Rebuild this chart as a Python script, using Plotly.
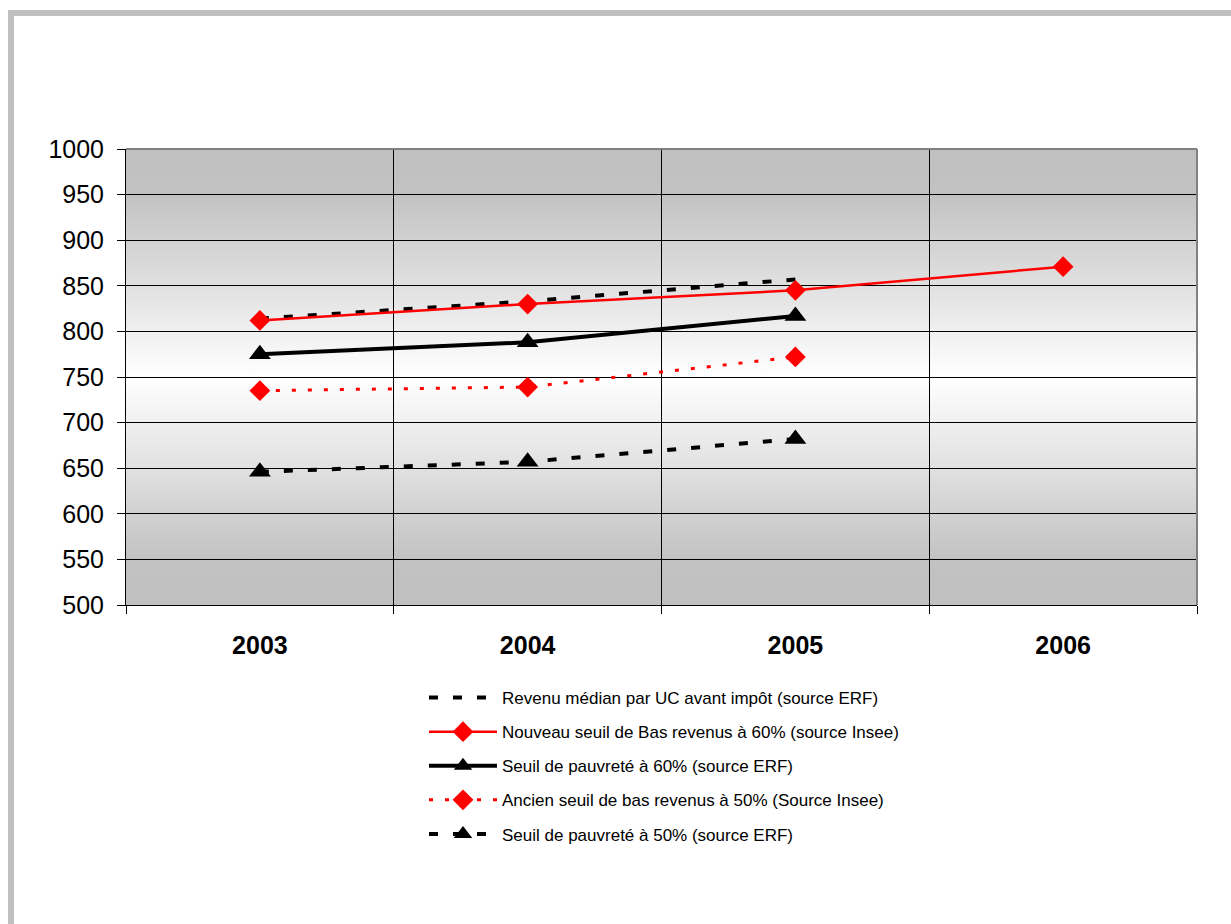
import base64
import plotly.graph_objects as go

# ---- data ----
years = ["2003", "2004", "2005", "2006"]
revenu_median = [814, 833, 857, None]
nouveau_seuil_60 = [812, 830, 845, 871]
seuil_pauvrete_60 = [775, 788, 817, None]
ancien_seuil_50 = [735, 739, 772, None]
seuil_pauvrete_50 = [646, 657, 682, None]

names = [
    "Revenu médian par UC avant impôt (source ERF)",
    "Nouveau seuil de Bas revenus à 60% (source Insee)",
    "Seuil de pauvreté à 60% (source ERF)",
    "Ancien seuil de bas revenus à 50% (Source Insee)",
    "Seuil de pauvreté à 50% (source ERF)",
]
y_ticks = list(range(500, 1001, 50))

# ---- layout geometry ----
W, H = 1231, 924
L, R, T, B = 126, 34, 149, 319
PW, PH = W - L - R, H - T - B


def px(x):
    return (x - L) / PW


def py(y):
    return (H - B - y) / PH


FONT = "Liberation Sans, Arial, sans-serif"

fig = go.Figure()

fig.add_trace(go.Scatter(
    x=years, y=revenu_median, name=names[0], mode="lines",
    line=dict(color="black", width=4, dash="9px,15px"),
    legendgroup="a"))
fig.add_trace(go.Scatter(
    x=years, y=nouveau_seuil_60, name=names[1], mode="lines+markers",
    line=dict(color="#ff0000", width=2.5),
    marker=dict(symbol="diamond", size=16, color="#ff0000"),
    legendgroup="b"))
fig.add_trace(go.Scatter(
    x=years, y=seuil_pauvrete_60, name=names[2], mode="lines+markers",
    line=dict(color="black", width=4),
    marker=dict(symbol="triangle-up", size=19, color="black"),
    legendgroup="c"))
fig.add_trace(go.Scatter(
    x=years, y=ancien_seuil_50, name=names[3], mode="lines+markers",
    line=dict(color="#ff0000", width=3, dash="4px,12px"),
    marker=dict(symbol="diamond", size=16, color="#ff0000"),
    legendgroup="d"))
fig.add_trace(go.Scatter(
    x=years, y=seuil_pauvrete_50, name=names[4], mode="lines+markers",
    line=dict(color="black", width=4, dash="9px,15px"),
    marker=dict(symbol="triangle-up", size=19, color="black"),
    legendgroup="e"))

# gradient background for plot area
svg = (
    '<svg xmlns="http://www.w3.org/2000/svg" width="100" height="100" preserveAspectRatio="none">'
    '<defs><linearGradient id="g" x1="0" y1="0" x2="0" y2="1">'
    '<stop offset="0" stop-color="#c0c0c0"/>'
    '<stop offset="0.1" stop-color="#c2c2c2"/>'
    '<stop offset="0.5" stop-color="#ffffff"/>'
    '<stop offset="0.9" stop-color="#c2c2c2"/>'
    '<stop offset="1" stop-color="#c0c0c0"/>'
    '</linearGradient></defs>'
    '<rect width="100" height="100" fill="url(#g)"/></svg>'
)
src = "data:image/svg+xml;base64," + base64.b64encode(svg.encode()).decode()

shapes = [
    # outer frame (left and top)
    dict(type="line", xref="paper", yref="paper", x0=px(11), x1=px(11), y0=py(10), y1=py(H + 5),
         line=dict(color="#c0c0c0", width=6)),
    dict(type="line", xref="paper", yref="paper", x0=px(8), x1=px(W + 5), y0=py(13), y1=py(13),
         line=dict(color="#c0c0c0", width=6)),
    # plot area top & right border
    dict(type="line", xref="paper", yref="paper", x0=0, x1=1, y0=1, y1=1,
         line=dict(color="#808080", width=2)),
    dict(type="line", xref="paper", yref="paper", x0=1, x1=1, y0=0, y1=1,
         line=dict(color="#808080", width=2)),
]

fig.update_layout(
    width=W, height=H,
    margin=dict(l=L, r=R, t=T, b=B, pad=0),
    paper_bgcolor="white",
    plot_bgcolor="white",
    font=dict(family=FONT, color="black"),
    images=[dict(source=src, xref="paper", yref="paper", x=0, y=1, sizex=1, sizey=1,
                 sizing="stretch", layer="below", xanchor="left", yanchor="top")],
    shapes=shapes,
    showlegend=True,
    legend=dict(
        x=px(424), y=py(680), xanchor="left", yanchor="top",
        font=dict(family=FONT, size=17, color="black"),
        bgcolor="rgba(0,0,0,0)",
        traceorder="grouped", tracegroupgap=9,
        itemwidth=68,
    ),
    xaxis=dict(
        type="category", range=[-0.5, 3.5],
        tickson="boundaries", ticks="outside", ticklen=8, tickcolor="black",
        showgrid=True, gridcolor="black", gridwidth=1,
        showline=True, linecolor="black", linewidth=1,
        tickfont=dict(family=FONT, size=25, color="black", weight="bold"),
        ticklabelstandoff=18,
        zeroline=False,
    ),
    yaxis=dict(
        range=[500, 1000], tickvals=y_ticks,
        ticks="outside", ticklen=8, tickcolor="black",
        showgrid=True, gridcolor="black", gridwidth=1,
        showline=True, linecolor="black", linewidth=1,
        tickfont=dict(family=FONT, size=25, color="black"),
        ticklabelstandoff=8,
        zeroline=False,
    ),
)

fig.write_html("out.html")
